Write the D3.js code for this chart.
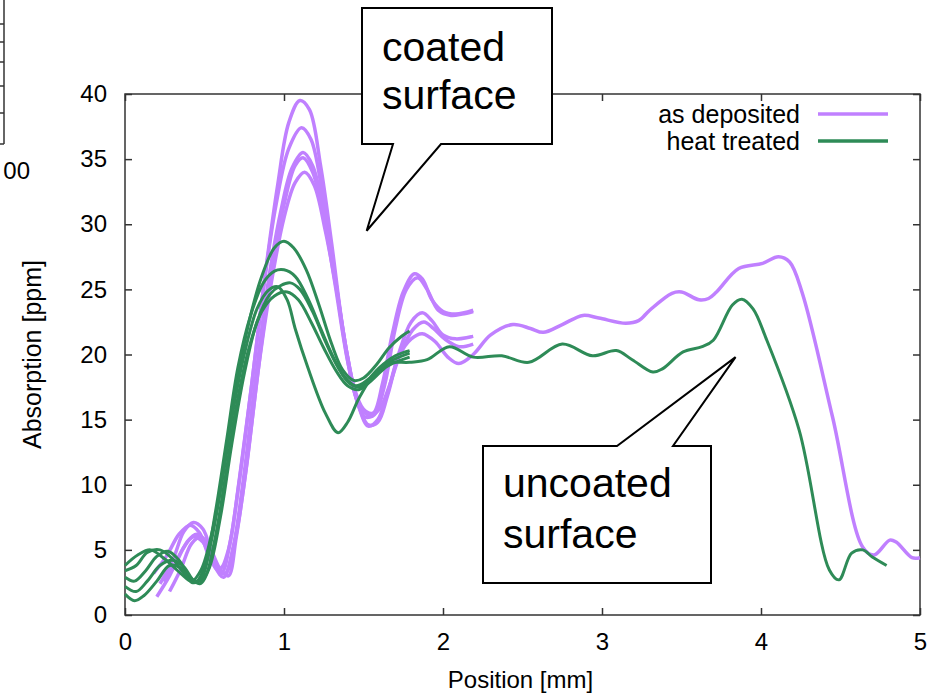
<!DOCTYPE html>
<html>
<head>
<meta charset="utf-8">
<script src="https://cdn.jsdelivr.net/npm/d3@7"></script>
<style>
  body { margin: 0; background: #fff; }
  svg { display: block; font-family: "Liberation Sans", Arial, sans-serif; }
</style>
</head>
<body>
<div id="chart"></div>
<script>
// as deposited: short scans (position mm, absorption ppm)
const asDeposited1 = [[0.22,2.4],[0.3,4.2],[0.37,6.4],[0.43,7.1],[0.49,6.6],[0.55,4.6],[0.61,3.3],[0.66,5.5],[0.72,10.5],[0.8,18],[0.88,26],[0.96,33],[1.03,37.8],[1.1,39.5],[1.16,38.8],[1.23,34.5],[1.3,28.5],[1.37,22],[1.44,17.5],[1.5,15.8],[1.56,15.5],[1.62,17.8],[1.68,21.5],[1.75,24.8],[1.82,26.2],[1.87,25.8],[1.93,24.2],[2.0,23.3],[2.08,23.1],[2.19,23.4]];
const asDeposited2 = [[0.18,3.2],[0.26,4.5],[0.34,6.2],[0.41,6.9],[0.47,6.3],[0.53,4.5],[0.6,3.6],[0.65,5.0],[0.71,9.5],[0.79,17],[0.87,25],[0.95,31.5],[1.03,35.8],[1.11,37.4],[1.17,36.5],[1.24,32.5],[1.31,27],[1.38,21],[1.45,16.8],[1.51,15.2],[1.57,15.4],[1.63,17.5],[1.7,22],[1.77,25],[1.84,25.9],[1.9,25],[1.97,23.4],[2.05,23],[2.12,23.1],[2.19,23.3]];
const asDeposited3 = [[0.2,1.4],[0.28,3.0],[0.36,5.0],[0.43,6.0],[0.49,5.6],[0.56,3.8],[0.62,2.9],[0.68,5.2],[0.74,10],[0.82,18],[0.9,25.5],[0.98,31],[1.05,34.3],[1.12,35.5],[1.18,34.5],[1.25,31],[1.32,26],[1.39,20.5],[1.46,16.5],[1.53,14.6],[1.59,14.8],[1.65,16.8],[1.72,20],[1.8,22.5],[1.87,23.2],[1.93,22.6],[2.0,21.5],[2.08,21.2],[2.19,21.4]];
const asDeposited4 = [[0.24,2.6],[0.32,4.0],[0.39,5.6],[0.45,6.2],[0.51,5.5],[0.57,3.6],[0.63,3.2],[0.69,5.6],[0.76,11],[0.84,19],[0.92,25.5],[1.0,30.5],[1.07,33.2],[1.13,34.0],[1.19,33],[1.26,29.5],[1.33,25],[1.4,19.8],[1.47,16.2],[1.54,15.3],[1.6,15.8],[1.66,17.5],[1.73,20],[1.81,21.9],[1.88,22.5],[1.94,22],[2.01,21.2],[2.1,20.6],[2.19,20.8]];
// as deposited: full scan across the sample
const asDepositedLong = [[0.28,1.8],[0.35,3.5],[0.42,5.5],[0.48,6.0],[0.54,5.0],[0.6,3.5],[0.65,3.0],[0.7,6],[0.77,12],[0.85,20],[0.93,27],[1.0,31.5],[1.07,34.5],[1.12,35.1],[1.18,34],[1.25,30.5],[1.32,25.5],[1.4,19.5],[1.47,16],[1.53,14.5],[1.59,15],[1.65,17],[1.72,19.8],[1.8,21.2],[1.87,21.6],[1.95,21],[2.03,19.8],[2.1,19.3],[2.19,20.0],[2.3,21.5],[2.44,22.3],[2.55,22.0],[2.63,21.7],[2.75,22.3],[2.88,23.0],[2.98,22.8],[3.15,22.4],[3.23,22.6],[3.30,23.4],[3.44,24.7],[3.5,24.8],[3.61,24.2],[3.67,24.3],[3.72,24.8],[3.86,26.6],[4.01,27.0],[4.11,27.5],[4.18,27.1],[4.26,24.7],[4.45,15.2],[4.64,5.2],[4.71,4.6],[4.81,5.75],[4.85,5.6],[4.95,4.4],[5.0,4.4]];

// heat treated: short scans
const heatTreated1 = [[0,3.8],[0.08,4.6],[0.16,5.0],[0.25,4.3],[0.35,3.2],[0.42,2.6],[0.48,3.5],[0.55,6.5],[0.62,11],[0.7,17.5],[0.78,22.5],[0.86,26],[0.94,28.2],[1.0,28.7],[1.06,28.2],[1.14,26.5],[1.22,23.8],[1.3,20.8],[1.37,18.8],[1.44,18.0],[1.5,18.2],[1.58,19.2],[1.66,20.5],[1.74,21.4],[1.79,21.8]];
const heatTreated2 = [[0,3.4],[0.07,3.8],[0.14,4.8],[0.22,5.0],[0.3,4.3],[0.38,3.1],[0.45,2.6],[0.51,4.2],[0.57,8],[0.64,13.5],[0.71,19],[0.79,23],[0.87,25.5],[0.94,26.4],[1.0,26.5],[1.07,26],[1.15,24.3],[1.23,22],[1.31,19.8],[1.38,18.3],[1.45,17.6],[1.52,18],[1.6,19],[1.7,19.9],[1.79,20.3]];
const heatTreated3 = [[0,2.9],[0.06,2.6],[0.13,3.4],[0.2,4.5],[0.27,4.9],[0.34,4.2],[0.41,2.9],[0.47,2.4],[0.53,3.6],[0.6,7.5],[0.67,13],[0.75,18.5],[0.83,22.5],[0.91,24.6],[0.98,25.3],[1.04,25.5],[1.1,25],[1.18,23.3],[1.26,21],[1.34,19],[1.41,17.8],[1.48,17.5],[1.56,18.3],[1.66,19.4],[1.79,20.1]];
const heatTreated4 = [[0,2.2],[0.07,1.8],[0.14,2.6],[0.22,3.8],[0.3,4.2],[0.37,3.7],[0.44,2.6],[0.5,2.9],[0.56,5.5],[0.63,10.5],[0.7,16],[0.78,20.5],[0.86,23.3],[0.94,24.5],[1.02,24.8],[1.09,24.2],[1.17,22.5],[1.25,20.5],[1.33,18.7],[1.4,17.6],[1.47,17.3],[1.55,18],[1.65,19.1],[1.79,19.8]];
// heat treated: full scan
const heatTreatedLong = [[0,1.6],[0.06,1.1],[0.12,1.5],[0.2,2.6],[0.28,3.8],[0.35,3.6],[0.42,2.5],[0.48,2.8],[0.54,5.5],[0.6,9.5],[0.67,15],[0.75,20],[0.83,23.5],[0.9,24.9],[0.96,25.2],[1.02,24.2],[1.07,22],[1.15,19],[1.26,15.5],[1.34,14.0],[1.4,14.8],[1.47,16.6],[1.55,18.2],[1.65,19.3],[1.79,19.4],[1.9,19.6],[2.04,20.6],[2.19,19.8],[2.37,19.9],[2.54,19.4],[2.75,20.8],[2.94,19.9],[3.09,20.3],[3.19,19.6],[3.32,18.65],[3.38,18.9],[3.51,20.2],[3.63,20.6],[3.70,21.1],[3.82,23.8],[3.88,24.25],[3.95,23.5],[4.03,21.3],[4.24,14.2],[4.43,3.45],[4.49,2.7],[4.57,4.75],[4.64,5.0],[4.70,4.45],[4.79,3.8]];

const xTicks = [0, 1, 2, 3, 4, 5];
const yTicks = [0, 5, 10, 15, 20, 25, 30, 35, 40];
const legendLabels = ["as deposited", "heat treated"];

const width = 933, height = 694;
const margin = { left: 125, right: 13, top: 94, bottom: 79 };
const purple = "#c080ff", green = "#2e8b57";

const svg = d3.select("#chart").append("svg")
  .attr("width", width)
  .attr("height", height)
  .attr("viewBox", [0, 0, width, height]);

const x = d3.scaleLinear().domain([0, 5]).range([margin.left, width - margin.right]);
const y = d3.scaleLinear().domain([0, 40]).range([height - margin.bottom, margin.top]);

// piece of a neighbouring chart on the left edge
const side = svg.append("g").attr("stroke", "#333").attr("stroke-width", 1.5);
side.append("line").attr("x1", 4).attr("x2", 4).attr("y1", 0).attr("y2", 144);
side.append("line").attr("x1", 0).attr("x2", 4).attr("y1", 144).attr("y2", 144);
[24, 42, 62, 86, 113].forEach((ty) =>
  side.append("line").attr("x1", 0).attr("x2", 4).attr("y1", ty).attr("y2", ty)
);
svg.append("text")
  .attr("x", 30).attr("y", 179)
  .attr("text-anchor", "end")
  .style("font-size", "24px")
  .text("00");

// axes with inward ticks, mirrored on top and right
const tickLen = 7;
const axisStyle = (g) => {
  g.select(".domain").remove();
  g.selectAll(".tick line").attr("stroke", "#333").attr("stroke-width", 1.5);
  g.selectAll(".tick text").attr("fill", "#000").style("font-size", "24px")
    .style("font-family", "Liberation Sans, Arial, sans-serif");
};

svg.append("g")
  .attr("transform", `translate(0,${y(0)})`)
  .call(d3.axisBottom(x).tickValues(xTicks).tickFormat(d3.format("d"))
    .tickSizeInner(-tickLen).tickSizeOuter(0).tickPadding(18))
  .call(axisStyle);
svg.append("g")
  .attr("transform", `translate(0,${y(40)})`)
  .call(d3.axisTop(x).tickValues(xTicks).tickSizeInner(-tickLen).tickSizeOuter(0).tickFormat(""))
  .call(axisStyle);
svg.append("g")
  .attr("transform", `translate(${x(0)},0)`)
  .call(d3.axisLeft(y).tickValues(yTicks).tickFormat(d3.format("d"))
    .tickSizeInner(-tickLen).tickSizeOuter(0).tickPadding(18))
  .call(axisStyle);
svg.append("g")
  .attr("transform", `translate(${x(5)},0)`)
  .call(d3.axisRight(y).tickValues(yTicks).tickSizeInner(-tickLen).tickSizeOuter(0).tickFormat(""))
  .call(axisStyle);

svg.append("rect")
  .attr("x", x(0)).attr("y", y(40))
  .attr("width", x(5) - x(0)).attr("height", y(0) - y(40))
  .attr("fill", "none").attr("stroke", "#333").attr("stroke-width", 1.5);

// axis titles
svg.append("text")
  .attr("x", (x(0) + x(5)) / 2 - 2).attr("y", 688)
  .attr("text-anchor", "middle")
  .style("font-size", "24px")
  .text("Position [mm]");
svg.append("text")
  .attr("transform", `translate(41,${(y(0) + y(40)) / 2}) rotate(-90)`)
  .attr("text-anchor", "middle")
  .style("font-size", "25px")
  .text("Absorption [ppm]");

// curves
const line = d3.line()
  .x((d) => x(d[0]))
  .y((d) => y(d[1]))
  .curve(d3.curveCatmullRom.alpha(0.5));

const purpleSeries = [asDeposited1, asDeposited2, asDeposited3, asDeposited4, asDepositedLong];
const greenSeries = [heatTreated1, heatTreated2, heatTreated3, heatTreated4, heatTreatedLong];

svg.append("g").selectAll("path")
  .data(purpleSeries)
  .enter()
  .append("path")
  .attr("d", line)
  .attr("fill", "none")
  .attr("stroke", purple)
  .attr("stroke-width", 3.5)
  .attr("stroke-linejoin", "round");

svg.append("g").selectAll("path")
  .data(greenSeries)
  .enter()
  .append("path")
  .attr("d", line)
  .attr("fill", "none")
  .attr("stroke", green)
  .attr("stroke-width", 3)
  .attr("stroke-linejoin", "round");

// legend
const legend = svg.append("g");
legendLabels.forEach((label, i) => {
  const ly = 114 + i * 27;
  legend.append("text")
    .attr("x", 800).attr("y", ly + 9)
    .attr("text-anchor", "end")
    .style("font-size", "25px")
    .text(label);
  legend.append("line")
    .attr("x1", 818).attr("x2", 888)
    .attr("y1", ly).attr("y2", ly)
    .attr("stroke", i === 0 ? purple : green)
    .attr("stroke-width", 3.5);
});

// callouts
function callout(box, base, tip, lines) {
  const [bx0, by0, bx1, by1] = box;
  let d;
  if (base.side === "bottom") {
    d = `M${bx0},${by0}H${bx1}V${by1}H${base.x1}L${tip[0]},${tip[1]}L${base.x0},${by1}H${bx0}Z`;
  } else {
    d = `M${bx0},${by0}H${base.x0}L${tip[0]},${tip[1]}L${base.x1},${by0}H${bx1}V${by1}H${bx0}Z`;
  }
  svg.append("path")
    .attr("d", d)
    .attr("fill", "#fff")
    .attr("stroke", "#000")
    .attr("stroke-width", 2)
    .attr("stroke-linejoin", "miter");
  lines.forEach((t) => {
    svg.append("text")
      .attr("x", t.x).attr("y", t.y)
      .style("font-size", "41px")
      .text(t.text);
  });
}

callout([362, 8, 552, 144], { side: "bottom", x0: 393, x1: 441 }, [x(1.52), y(29.5)], [
  { x: 382, y: 61, text: "coated" },
  { x: 382, y: 109, text: "surface" },
]);
callout([483, 446, 711, 583], { side: "top", x0: 617, x1: 673 }, [x(3.84), y(19.8)], [
  { x: 503, y: 497, text: "uncoated" },
  { x: 503, y: 548, text: "surface" },
]);
</script>
</body>
</html>
